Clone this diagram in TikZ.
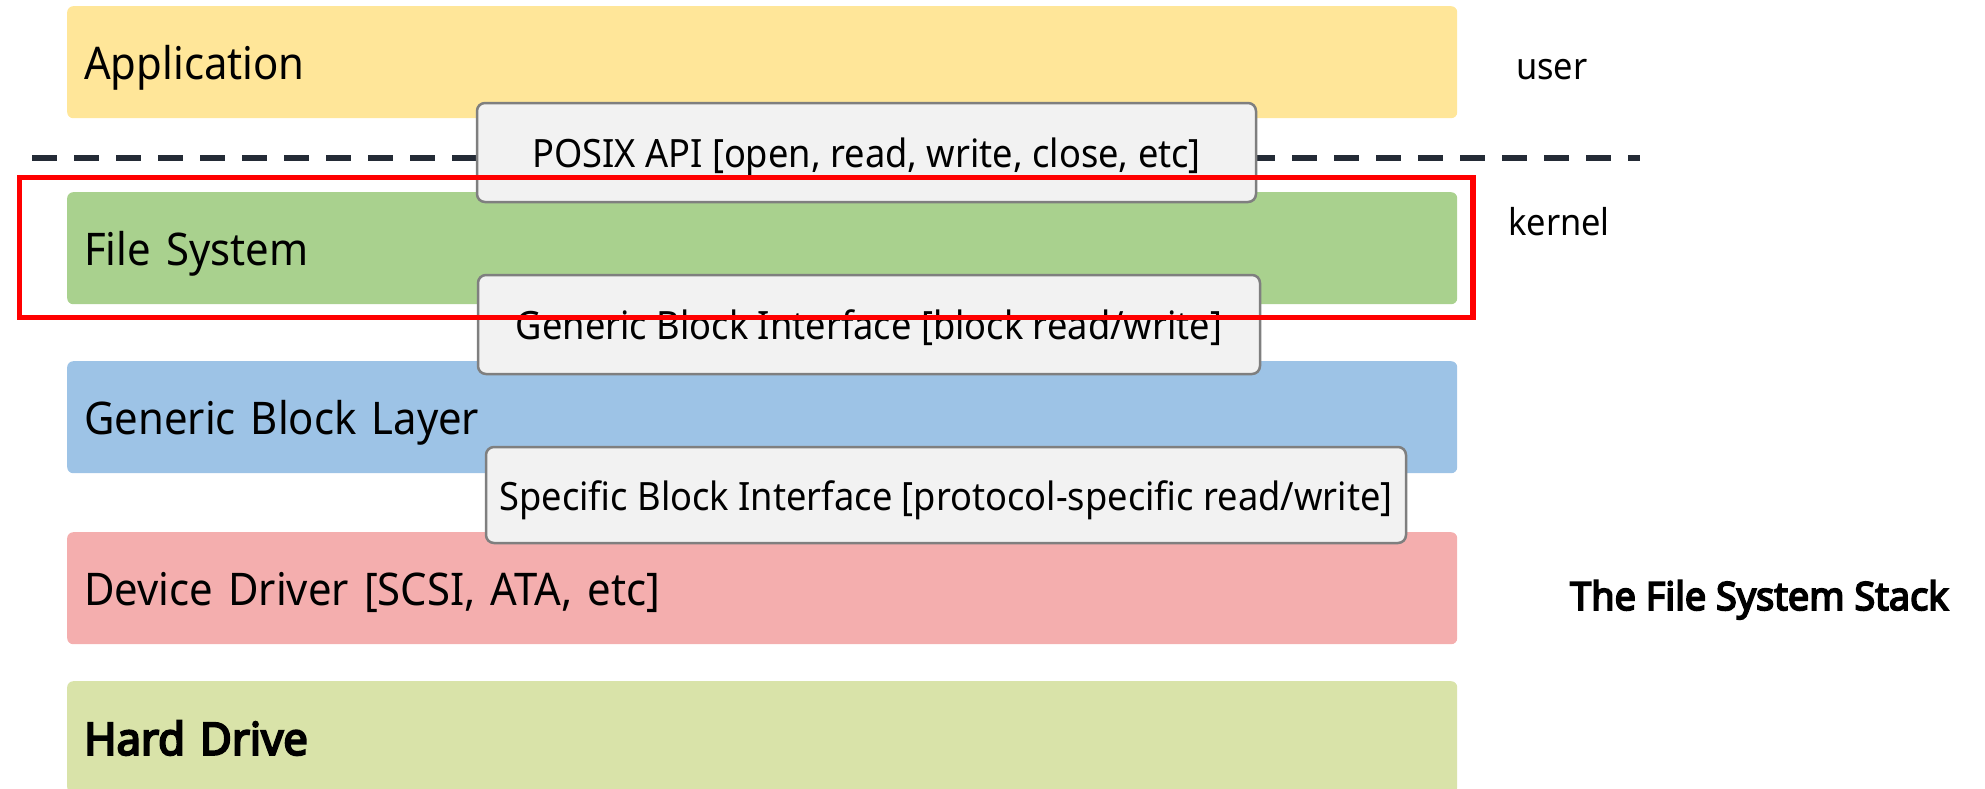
\documentclass[tikz,border=0pt]{standalone}
\usepackage{fontspec}
\setmainfont{Noto Sans}[FakeStretch=0.93, BoldFont={Noto Sans}, BoldFeatures={FakeBold=4.5, FakeStretch=0.97}]
\definecolor{appfill}{HTML}{FFE699}
\definecolor{fsfill}{HTML}{A9D18E}
\definecolor{gblfill}{HTML}{9DC3E6}
\definecolor{ddfill}{HTML}{F4AEAE}
\definecolor{hdfill}{HTML}{D9E3A9}
\definecolor{ifacefill}{HTML}{F2F2F2}
\definecolor{ifaceline}{HTML}{7F7F7F}
\definecolor{sepcolor}{HTML}{242B36}
\definecolor{focusred}{HTML}{FF0000}
\tikzset{
  layer/.style={draw=none, rounded corners=6pt, anchor=north west,
    minimum height=112pt, inner xsep=17pt, inner ysep=0pt,
    text width=1356pt, align=left,
    font=\fontsize{45pt}{54pt}\selectfont, text height=40pt, text depth=4.6pt},
  iface/.style={draw=ifaceline, line width=2.5pt, fill=ifacefill,
    rounded corners=8pt, inner sep=0pt,
    font=\fontsize{39pt}{46pt}\selectfont, text height=34pt, text depth=3.4pt},
  sepline/.style={draw=sepcolor, line width=6.5pt, dash pattern=on 25pt off 17pt},
  focusframe/.style={draw=focusred, line width=5.5pt, fill=none, inner sep=0pt, anchor=north west},
  side/.style={anchor=base west, inner sep=0pt, font=\fontsize{37pt}{44pt}\selectfont},
}
\begin{document}
\begin{tikzpicture}[x=1pt, y=-1pt]
  \useasboundingbox (0,0) rectangle (1985,788);
  \clip (0,0) rectangle (1985,788);

  % stack layers
  \node[layer, fill=appfill] (app) at (67,6) {Application};
  \node[layer, fill=fsfill]  (fs)  at (67,192) {File System};
  \node[layer, fill=gblfill] (gbl) at (67,361) {Generic Block Layer};
  \node[layer, fill=ddfill]  (dd)  at (67,532) {Device Driver [SCSI, ATA, etc]};
  \node[layer, fill=hdfill]  (hd)  at (67,681) {\bfseries Hard Drive};

  % user / kernel boundary
  \coordinate (sepL) at (32,158);
  \coordinate (sepR) at (1640,158);
  \draw[sepline] (sepL) -- (sepR);

  % interfaces between layers
  \node[iface, minimum width=779pt, minimum height=99pt] (posix) at (866.5,152.5)
    {POSIX API [open, read, write, close, etc]};
  \node[iface, minimum width=782pt, minimum height=99pt] (gbi) at (869,324.5)
    {Generic Block Interface [block read/write]};
  \node[iface, minimum width=920pt, minimum height=96pt] (sbi) at (946,495)
    {Specific Block Interface [protocol-specific read/write]};

  % highlighted layer
  \node[focusframe, minimum width=1453.5pt, minimum height=140pt] (focus) at (16.5,174.5) {};

  % side labels
  \node[side] (user) at (1516,79) {user};
  \node[side] (kernel) at (1508,235) {kernel};
  \node[side, font=\fontsize{39pt}{46pt}\selectfont\bfseries] (title) at (1570,610) {The File System Stack};
\end{tikzpicture}
\end{document}
